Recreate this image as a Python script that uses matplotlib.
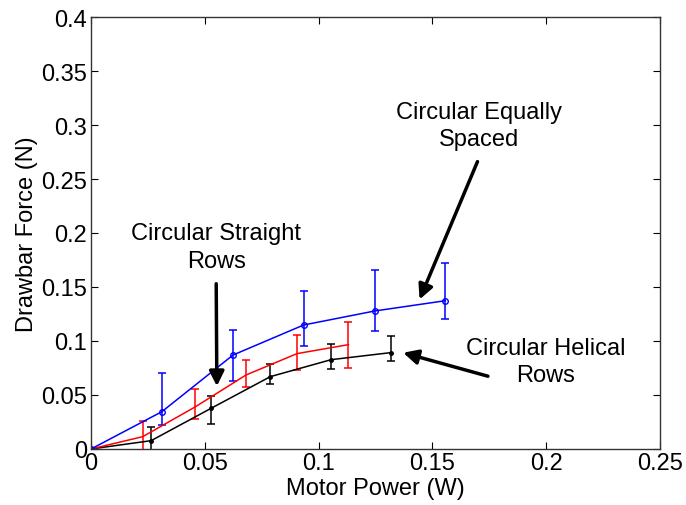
import matplotlib
matplotlib.use("Agg")
import matplotlib.pyplot as plt

plt.rcParams['font.family'] = ['Liberation Sans', 'DejaVu Sans']

# Circular Equally Spaced (blue)
blue_x = [0, 0.0311, 0.0624, 0.0934, 0.1247, 0.1557]
blue_y = [0, 0.0345, 0.087, 0.1148, 0.1278, 0.1373]
blue_lo = [0, 0.0222, 0.063, 0.095, 0.1095, 0.1207]
blue_hi = [0, 0.0706, 0.110, 0.146, 0.1657, 0.172]

# Circular Straight Rows (red)
red_x = [0, 0.0227, 0.0458, 0.0681, 0.0905, 0.1131]
red_y = [0, 0.0114, 0.039, 0.0685, 0.0883, 0.0966]
red_lo = [0, -0.001, 0.0275, 0.0574, 0.0735, 0.075]
red_hi = [0, 0.0256, 0.0559, 0.0827, 0.106, 0.118]

# Circular Helical Rows (black)
blk_x = [0, 0.0264, 0.0528, 0.0788, 0.1055, 0.1316]
blk_y = [0, 0.0077, 0.0377, 0.067, 0.0827, 0.0892]
blk_lo = [0, -0.001, 0.0231, 0.0605, 0.074, 0.0815]
blk_hi = [0, 0.020, 0.0488, 0.079, 0.097, 0.1043]

xticks = [0, 0.05, 0.1, 0.15, 0.2, 0.25]
xticklabels = ['0', '0.05', '0.1', '0.15', '0.2', '0.25']
yticks = [0, 0.05, 0.1, 0.15, 0.2, 0.25, 0.3, 0.35, 0.4]
yticklabels = ['0', '0.05', '0.1', '0.15', '0.2', '0.25', '0.3', '0.35', '0.4']

fig = plt.figure(figsize=(6.86, 5.06), dpi=100)
ax = fig.add_axes([0.1327, 0.1107, 0.962 - 0.1327, 0.9644 - 0.1107])

def draw(x, y, lo, hi, color, marker, ms, mfc):
    yerr = [[yy - l for yy, l in zip(y, lo)], [h - yy for yy, h in zip(y, hi)]]
    ax.errorbar(x, y, yerr=yerr, color=color, lw=1.1, elinewidth=1.1,
                capsize=3, capthick=1.1, marker=marker, ms=ms, mfc=mfc, mec=color)

draw(blk_x, blk_y, blk_lo, blk_hi, 'black', 'o', 2.5, 'black')
draw(red_x, red_y, red_lo, red_hi, 'red', None, 0, 'red')
draw(blue_x, blue_y, blue_lo, blue_hi, 'blue', 'o', 4, 'none')

fs = 17
ax.set_xlim(0, 0.25)
ax.set_ylim(0, 0.4)
ax.set_xticks(xticks)
ax.set_xticklabels(xticklabels)
ax.set_yticks(yticks)
ax.set_yticklabels(yticklabels)
ax.tick_params(direction='in', top=True, right=True, labelsize=fs, length=5, pad=3)
ax.tick_params(axis='x', pad=2)
for s in ax.spines.values():
    s.set_linewidth(1.0)
    s.set_color('#333333')
ax.set_xlabel('Motor Power (W)', fontsize=fs, labelpad=2)
ax.set_ylabel('Drawbar Force (N)', fontsize=fs, labelpad=2)

tfs = 17
ax.text(0.1703, 0.2995, 'Circular Equally\nSpaced', ha='center', va='center', fontsize=tfs, linespacing=1.3)
ax.annotate('', xy=(0.1439, 0.1361), xytext=(0.1703, 0.2685),
            arrowprops=dict(arrowstyle='-|>', lw=2.5, color='black', mutation_scale=22))
ax.text(0.055, 0.187, 'Circular Straight\nRows', ha='center', va='center', fontsize=tfs, linespacing=1.3)
ax.annotate('', xy=(0.0553, 0.0556), xytext=(0.055, 0.1556),
            arrowprops=dict(arrowstyle='-|>', lw=2.5, color='black', mutation_scale=22))
ax.text(0.1998, 0.081, 'Circular Helical\nRows', ha='center', va='center', fontsize=tfs, linespacing=1.3)
ax.annotate('', xy=(0.136, 0.0898), xytext=(0.1756, 0.0667),
            arrowprops=dict(arrowstyle='-|>', lw=2.5, color='black', mutation_scale=22))

fig.savefig('out.png', dpi=100)
